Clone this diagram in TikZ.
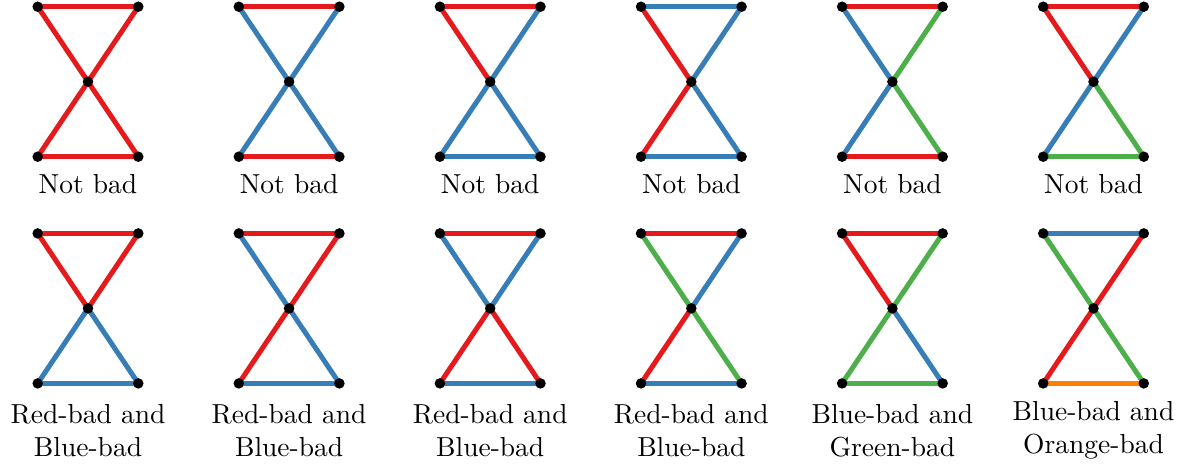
\documentclass[tikz,border=0pt]{standalone}
\usepackage{fontspec}
\definecolor{cR}{HTML}{E41A1C}
\definecolor{cB}{HTML}{377EB8}
\definecolor{cG}{HTML}{4DAF4A}
\definecolor{cO}{HTML}{FF7F00}
\pgfdeclarelayer{bg}
\pgfsetlayers{bg,main}
\tikzset{
  vdot/.style={circle,fill=black,inner sep=0pt,minimum size=10.5pt},
  edge/.style={line width=5pt},
  lbl/.style={anchor=base,inner sep=0pt,font=\fontsize{10}{12}\selectfont,scale=2.75,transform shape}
}
% #1 name, #2 cx, #3 cy, #4 top, #5 tl-c, #6 tr-c, #7 c-bl, #8 c-br, #9 bottom
\newcommand{\bowtiediag}[9]{%
  \node[vdot] (#1tl) at ({#2-50.3},{#3-75}) {};
  \node[vdot] (#1tr) at ({#2+50.3},{#3-75}) {};
  \node[vdot] (#1c)  at (#2,#3) {};
  \node[vdot] (#1bl) at ({#2-50.3},{#3+75}) {};
  \node[vdot] (#1br) at ({#2+50.3},{#3+75}) {};
  \begin{pgfonlayer}{bg}
    \draw[edge,#4] (#1tl.center) -- (#1tr.center);
    \draw[edge,#5] (#1tl.center) -- (#1c.center);
    \draw[edge,#6] (#1tr.center) -- (#1c.center);
    \draw[edge,#7] (#1c.center) -- (#1bl.center);
    \draw[edge,#8] (#1c.center) -- (#1br.center);
    \draw[edge,#9] (#1bl.center) -- (#1br.center);
  \end{pgfonlayer}
}
\begin{document}
\begin{tikzpicture}[x=1pt,y=-1pt]
\useasboundingbox (0,0) rectangle (1186,467);
% top row
\bowtiediag{a}{88}{81.7}{cR}{cR}{cR}{cR}{cR}{cR}
\bowtiediag{b}{289.1}{81.7}{cR}{cB}{cB}{cB}{cB}{cR}
\bowtiediag{c}{490.2}{81.7}{cR}{cR}{cB}{cB}{cB}{cB}
\bowtiediag{d}{691.3}{81.7}{cB}{cR}{cB}{cR}{cB}{cB}
\bowtiediag{e}{892.4}{81.7}{cR}{cB}{cG}{cB}{cG}{cR}
\bowtiediag{f}{1093.5}{81.7}{cR}{cR}{cB}{cB}{cG}{cG}
\node[lbl] (la) at (88,193) {Not bad};
\node[lbl] (lb) at (289.1,193) {Not bad};
\node[lbl] (lc) at (490.2,193) {Not bad};
\node[lbl] (ld) at (691.3,193) {Not bad};
\node[lbl] (le) at (892.4,193) {Not bad};
\node[lbl] (lf) at (1093.5,193) {Not bad};
% bottom row
\bowtiediag{g}{88}{308.4}{cR}{cR}{cR}{cB}{cB}{cB}
\bowtiediag{h}{289.1}{308.4}{cR}{cB}{cR}{cR}{cB}{cB}
\bowtiediag{i}{490.2}{308.4}{cR}{cB}{cB}{cR}{cR}{cB}
\bowtiediag{j}{691.3}{308.4}{cR}{cG}{cB}{cR}{cG}{cB}
\bowtiediag{k}{892.4}{308.4}{cR}{cR}{cG}{cG}{cB}{cG}
\bowtiediag{l}{1093.5}{308.4}{cB}{cG}{cR}{cR}{cG}{cO}
\node[lbl] (lg1) at (88,423.5) {Red-bad and};
\node[lbl] (lg2) at (88,456) {Blue-bad};
\node[lbl] (lh1) at (289.1,423.5) {Red-bad and};
\node[lbl] (lh2) at (289.1,456) {Blue-bad};
\node[lbl] (li1) at (490.2,423.5) {Red-bad and};
\node[lbl] (li2) at (490.2,456) {Blue-bad};
\node[lbl] (lj1) at (691.3,423.5) {Red-bad and};
\node[lbl] (lj2) at (691.3,456) {Blue-bad};
\node[lbl] (lk1) at (892.4,423.5) {Blue-bad and};
\node[lbl] (lk2) at (892.4,456) {Green-bad};
\node[lbl] (ll1) at (1093.5,420.5) {Blue-bad and};
\node[lbl] (ll2) at (1093.5,453) {Orange-bad};
\end{tikzpicture}
\end{document}
